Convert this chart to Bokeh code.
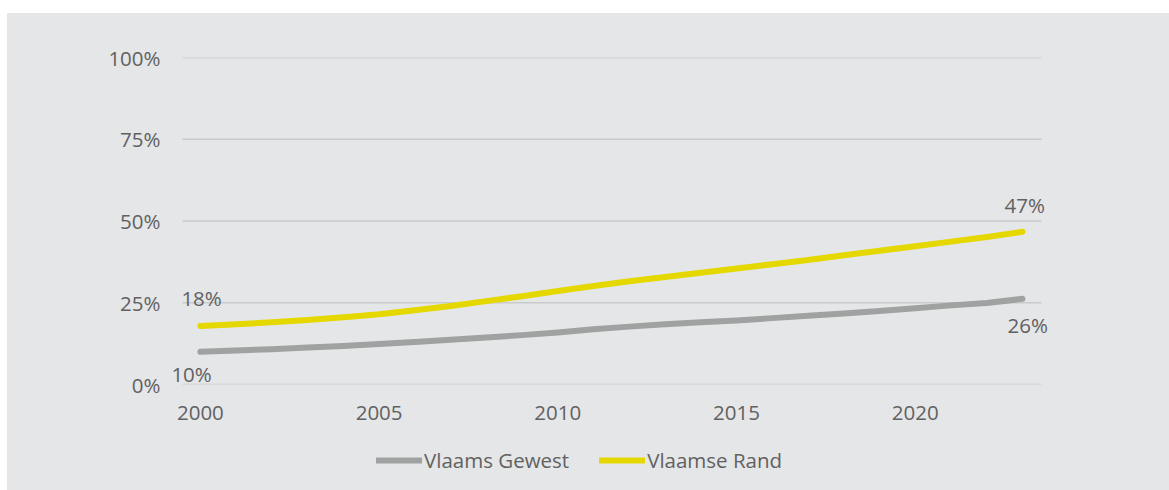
from bokeh.plotting import figure
from bokeh.models import (Range1d, FixedTicker, NumeralTickFormatter, Legend, LegendItem,
                          Label, Spacer, ColumnDataSource)
from bokeh.layouts import column, row
from bokeh.embed import file_html
from bokeh.resources import INLINE

years = list(range(2000, 2024))
vlaams_gewest = [10.0, 10.4, 10.8, 11.3, 11.8, 12.4, 13.0, 13.7, 14.4, 15.1, 15.9, 16.9,
                 17.7, 18.4, 19.0, 19.6, 20.3, 21.0, 21.7, 22.5, 23.3, 24.2, 24.9, 26.2]
vlaamse_rand = [17.9, 18.4, 19.0, 19.7, 20.6, 21.5, 22.7, 24.0, 25.5, 27.0, 28.6, 30.1,
                31.6, 32.9, 34.2, 35.5, 36.8, 38.1, 39.5, 40.9, 42.3, 43.7, 45.1, 46.7]
series_names = ["Vlaams Gewest", "Vlaamse Rand"]
y_ticks = [0, 0.25, 0.5, 0.75, 1.0]
x_ticks = [2000, 2005, 2010, 2015, 2020]

BG = "#e5e6e8"
TXT = "#616161"
FONT = "Open Sans"
FS = "20.5px"
GRAY = "#a0a1a1"
YELLOW = "#e5d800"
GRID_X0, GRID_X1 = 1999.5, 2023.53
W = 1162

p = figure(width=W, height=427, output_backend="svg", toolbar_location=None,
           x_range=Range1d(1998.94, 2023.84), y_range=Range1d(0, 1))
p.min_border_left = 155
p.min_border_right = 117
p.min_border_top = 44
p.min_border_bottom = 56
p.background_fill_color = None
p.border_fill_color = BG
p.outline_line_color = None
p.grid.grid_line_color = None

p.segment(x0=[GRID_X0] * len(y_ticks), x1=[GRID_X1] * len(y_ticks), y0=y_ticks, y1=y_ticks,
          line_color="#c9cacc", line_width=1.3)

p.yaxis.ticker = FixedTicker(ticks=y_ticks)
p.yaxis.formatter = NumeralTickFormatter(format="0%")
p.xaxis.ticker = FixedTicker(ticks=x_ticks)
for ax in (p.xaxis[0], p.yaxis[0]):
    ax.axis_line_color = None
    ax.major_tick_line_color = None
    ax.minor_tick_line_color = None
    ax.major_tick_out = 0
    ax.major_tick_in = 0
    ax.minor_tick_out = 0
    ax.minor_tick_in = 0
    ax.major_label_text_font = FONT
    ax.major_label_text_font_size = FS
    ax.major_label_text_color = TXT
p.yaxis.major_label_standoff = 2
p.xaxis.major_label_standoff = 21

src = ColumnDataSource(dict(x=years,
                            g=[v / 100 for v in vlaams_gewest],
                            r=[v / 100 for v in vlaamse_rand]))
line_kw = dict(line_width=6, line_cap="round", line_join="round")
p.line("x", "g", source=src, line_color=GRAY, **line_kw)
p.line("x", "r", source=src, line_color=YELLOW, **line_kw)

def add_label(xv, yv, dx, dy):
    p.add_layout(Label(x=xv, y=yv / 100, text=f"{round(yv)}%", x_offset=dx, y_offset=dy,
                       text_font=FONT, text_font_size=FS, text_color=TXT,
                       text_align="left", text_baseline="middle"))

add_label(years[0], vlaamse_rand[0], -19, 28)
add_label(years[0], vlaams_gewest[0], -29, -22)
add_label(years[-1], vlaamse_rand[-1], -18, 27)
add_label(years[-1], vlaams_gewest[-1], -15, -26)

# legend strip (same series, outside its own visible range, only their legend swatches show)
pl = figure(width=W, height=50, output_backend="svg", toolbar_location=None,
            x_range=Range1d(0, 1), y_range=Range1d(0, 1), x_axis_type=None, y_axis_type=None,
            min_border=0)
pl.background_fill_color = None
pl.border_fill_color = BG
pl.outline_line_color = None
pl.grid.grid_line_color = None
rg = pl.line("x", "g", source=src, line_color=GRAY, **line_kw)
rr = pl.line("x", "r", source=src, line_color=YELLOW, **line_kw)
legend = Legend(items=[LegendItem(label=series_names[0], renderers=[rg]),
                       LegendItem(label=series_names[1], renderers=[rr])],
                orientation="horizontal", location=(214, 16),
                background_fill_alpha=0, border_line_color=None,
                label_text_font=FONT, label_text_font_size=FS, label_text_color=TXT,
                glyph_width=46, glyph_height=24, label_height=24, label_standoff=2, spacing=30,
                padding=0, margin=0)
pl.add_layout(legend, "center")

inner = column(p, pl, styles={"background-color": BG})
layout = column(Spacer(height=13), row(Spacer(width=7), inner))
open("out.html", "w").write(file_html(layout, INLINE))
